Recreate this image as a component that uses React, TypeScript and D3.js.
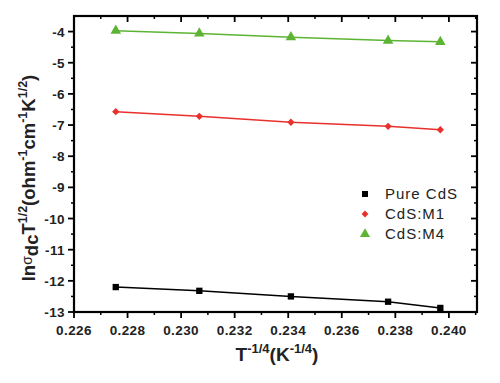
import React from 'react';
import * as d3 from 'd3';

const xValues = [0.22756, 0.23068, 0.2341, 0.23773, 0.23968];
const pureCdS = [-12.2, -12.32, -12.5, -12.67, -12.87];
const cdsM1 = [-6.57, -6.72, -6.91, -7.04, -7.15];
const cdsM4 = [-3.97, -4.06, -4.18, -4.29, -4.33];
const seriesNames = ['Pure CdS', 'CdS:M1', 'CdS:M4'];
const seriesColors = ['#000000', '#e8302c', '#5db434'];
const xTickValues = [0.226, 0.228, 0.23, 0.232, 0.234, 0.236, 0.238, 0.24];
const xMinorValues = [0.227, 0.229, 0.231, 0.233, 0.235, 0.237, 0.239, 0.241];
const yTickValues = [-4, -5, -6, -7, -8, -9, -10, -11, -12, -13];
const yMinorValues = [-3.5, -4.5, -5.5, -6.5, -7.5, -8.5, -9.5, -10.5, -11.5, -12.5];

const FONT = "'Liberation Sans', Arial, sans-serif";

export default function App() {
  const left = 74, right = 477, top = 16, bottom = 312;
  const x = d3.scaleLinear().domain([0.226, 0.24105]).range([left, right]);
  const y = d3.scaleLinear().domain([-13, -3.5]).range([bottom, top]);
  const allSeries = [pureCdS, cdsM1, cdsM4];
  const line = d3.line<number>().x((_, i) => x(xValues[i])).y((d) => y(d));
  const symbols = [d3.symbolSquare, (d3 as any).symbolDiamond2 || d3.symbolDiamond, d3.symbolTriangle];
  const symSizes = [40, 34, 48];
  const legSizes = [36, 30, 44];
  const sym = (i: number, s: number) => d3.symbol().type(symbols[i]).size(s)() as string;
  const fmtX = d3.format('.3f');
  const majorLen = 6, minorLen = 3;

  return (
    <svg width={500} height={383} style={{ position: 'absolute', left: 0, top: 0, background: '#fff' }} fontFamily={FONT}>
      <rect x={0} y={0} width={500} height={383} fill="#fff" />
      {allSeries.map((s, si) => (
        <g key={si}>
          <path d={line(s) as string} fill="none" stroke={seriesColors[si]} strokeWidth={1.5} />
          {s.map((v, i) => (
            <path key={i} d={sym(si, symSizes[si])} transform={`translate(${x(xValues[i])},${y(v)})`} fill={seriesColors[si]} />
          ))}
        </g>
      ))}
      <rect x={left} y={top} width={right - left} height={bottom - top} fill="none" stroke="#000" strokeWidth={2.2} />
      {xTickValues.map((t) => (
        <g key={t}>
          <line x1={x(t)} x2={x(t)} y1={bottom} y2={bottom + majorLen} stroke="#000" strokeWidth={1.8} />
          <line x1={x(t)} x2={x(t)} y1={top} y2={top + majorLen} stroke="#000" strokeWidth={1.8} />
          <text x={x(t)} y={335} textAnchor="middle" fontSize={13.5} fontWeight="bold" letterSpacing={0.4} fill="#222">{fmtX(t)}</text>
        </g>
      ))}
      {xMinorValues.filter((t) => x(t) < right).map((t) => (
        <g key={t}>
          <line x1={x(t)} x2={x(t)} y1={bottom} y2={bottom + minorLen} stroke="#000" strokeWidth={1.5} />
          <line x1={x(t)} x2={x(t)} y1={top} y2={top + minorLen} stroke="#000" strokeWidth={1.5} />
        </g>
      ))}
      {yTickValues.map((t) => (
        <g key={t}>
          <line x1={left - majorLen} x2={left} y1={y(t)} y2={y(t)} stroke="#000" strokeWidth={1.8} />
          <line x1={right - majorLen} x2={right} y1={y(t)} y2={y(t)} stroke="#000" strokeWidth={1.8} />
          <text x={65} y={y(t) + 5} textAnchor="end" fontSize={13.5} fontWeight="bold" letterSpacing={0.4} fill="#222">{String(t)}</text>
        </g>
      ))}
      {yMinorValues.filter((t) => y(t) > top).map((t) => (
        <g key={t}>
          <line x1={left - minorLen} x2={left} y1={y(t)} y2={y(t)} stroke="#000" strokeWidth={1.5} />
          <line x1={right - minorLen} x2={right} y1={y(t)} y2={y(t)} stroke="#000" strokeWidth={1.5} />
        </g>
      ))}
      <text x={277} y={361} textAnchor="middle" fontWeight="bold" fontSize={19} fill="#222">
        <tspan>T</tspan>
        <tspan fontSize={13} dy={-8}>-1/4</tspan>
        <tspan dy={8}>(K</tspan>
        <tspan fontSize={13} dy={-8}>-1/4</tspan>
        <tspan dy={8}>)</tspan>
      </text>
      <text transform="translate(35,178) rotate(-90)" textAnchor="middle" fontWeight="bold" fontSize={18.5} fill="#222">
        <tspan>ln</tspan>
        <tspan fontWeight="normal" fontSize={14} dy={-3}>σ</tspan>
        <tspan dy={6}>dc</tspan>
        <tspan dy={-3}>T</tspan>
        <tspan fontSize={12.5} dy={-8}>1/2</tspan>
        <tspan dy={8}>(ohm</tspan>
        <tspan fontSize={12.5} dy={-8}>-1</tspan>
        <tspan dy={8}>cm</tspan>
        <tspan fontSize={12.5} dy={-8}>-1</tspan>
        <tspan dy={8}>K</tspan>
        <tspan fontSize={12.5} dy={-8}>1/2</tspan>
        <tspan dy={8}>)</tspan>
      </text>
      {seriesNames.map((n, i) => (
        <g key={n} transform={`translate(0,${194 + i * 20})`}>
          <path d={sym(i, legSizes[i])} transform="translate(365,0)" fill={seriesColors[i]} />
          <text x={385} y={5} fontSize={15} letterSpacing={1} fill="#222">{n}</text>
        </g>
      ))}
    </svg>
  );
}
